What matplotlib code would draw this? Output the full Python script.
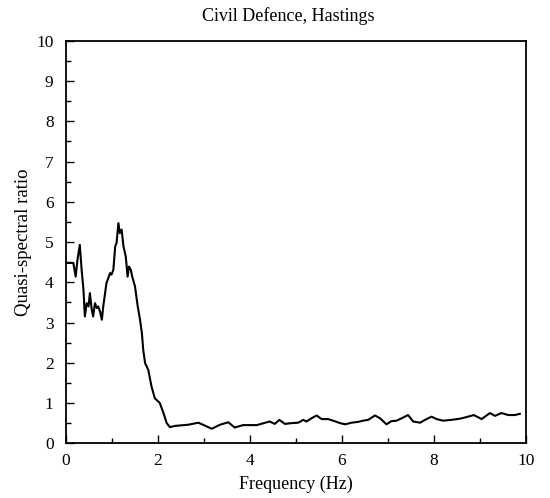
import matplotlib
matplotlib.use("Agg")
import matplotlib.pyplot as plt
from matplotlib.ticker import MultipleLocator

plt.rcParams['font.family'] = ['Liberation Serif', 'DejaVu Serif']

# quasi-spectral ratio read along the frequency axis (Hz)
freq = [0.02, 0.16, 0.21, 0.25, 0.30, 0.34, 0.38, 0.41, 0.45, 0.49,
        0.52, 0.56, 0.59, 0.63, 0.67, 0.70, 0.74, 0.78, 0.81, 0.85,
        0.88, 0.96, 0.99, 1.03, 1.07, 1.10, 1.14, 1.17, 1.21, 1.25,
        1.30, 1.34, 1.37, 1.41, 1.44, 1.50, 1.56, 1.61, 1.65, 1.68,
        1.72, 1.79, 1.86, 1.93, 2.04, 2.12, 2.19, 2.26, 2.37, 2.66,
        2.88, 3.17, 3.35, 3.53, 3.67, 3.85, 4.15, 4.43, 4.54, 4.64,
        4.76, 4.91, 5.05, 5.16, 5.23, 5.34, 5.45, 5.56, 5.70, 5.81,
        5.96, 6.07, 6.21, 6.35, 6.46, 6.57, 6.72, 6.83, 6.97, 7.08,
        7.19, 7.30, 7.44, 7.55, 7.70, 7.84, 7.95, 8.06, 8.20, 8.38,
        8.57, 8.71, 8.87, 9.04, 9.22, 9.33, 9.47, 9.62, 9.76, 9.87]
ratio = [4.48, 4.48, 4.14, 4.56, 4.93, 4.31, 3.81, 3.15, 3.48, 3.40,
         3.73, 3.32, 3.15, 3.48, 3.36, 3.40, 3.27, 3.07, 3.40, 3.73,
         3.98, 4.23, 4.19, 4.31, 4.89, 4.98, 5.47, 5.22, 5.31, 4.89,
         4.64, 4.14, 4.39, 4.31, 4.14, 3.90, 3.40, 3.07, 2.74, 2.32,
         1.99, 1.82, 1.41, 1.12, 1.00, 0.75, 0.50, 0.40, 0.43, 0.46,
         0.51, 0.36, 0.46, 0.52, 0.39, 0.45, 0.45, 0.54, 0.48, 0.58,
         0.48, 0.50, 0.51, 0.58, 0.54, 0.62, 0.69, 0.60, 0.60, 0.56,
         0.50, 0.47, 0.51, 0.53, 0.56, 0.58, 0.69, 0.62, 0.47, 0.55,
         0.56, 0.62, 0.70, 0.54, 0.51, 0.60, 0.66, 0.60, 0.56, 0.58,
         0.61, 0.65, 0.70, 0.60, 0.75, 0.68, 0.75, 0.70, 0.70, 0.73]

fig = plt.figure(figsize=(5.5, 4.98), dpi=100)
ax = fig.add_axes([0.12, 0.11, 0.836, 0.808])

ax.plot(freq, ratio, color='black', linewidth=1.5)

ax.set_xlim(0, 10)
ax.set_ylim(0, 10)
ax.xaxis.set_major_locator(MultipleLocator(2))
ax.xaxis.set_minor_locator(MultipleLocator(1))
ax.yaxis.set_major_locator(MultipleLocator(1))
ax.yaxis.set_minor_locator(MultipleLocator(0.5))
ax.tick_params(which='both', direction='in', top=False, right=False,
               labelsize=12.5, width=1)
ax.tick_params(which='major', length=6)
ax.tick_params(which='minor', length=3.5)
ax.tick_params(axis='x', which='major', pad=7)
ax.tick_params(axis='y', which='major', pad=9)
for s in ax.spines.values():
    s.set_linewidth(1.3)

ax.set_title('Civil Defence, Hastings', fontsize=13, pad=14, x=0.483)
ax.set_xlabel('Frequency (Hz)', fontsize=13, labelpad=5)
ax.set_ylabel('Quasi-spectral ratio', fontsize=13.5, labelpad=3)

fig.savefig('out.png', dpi=100)
